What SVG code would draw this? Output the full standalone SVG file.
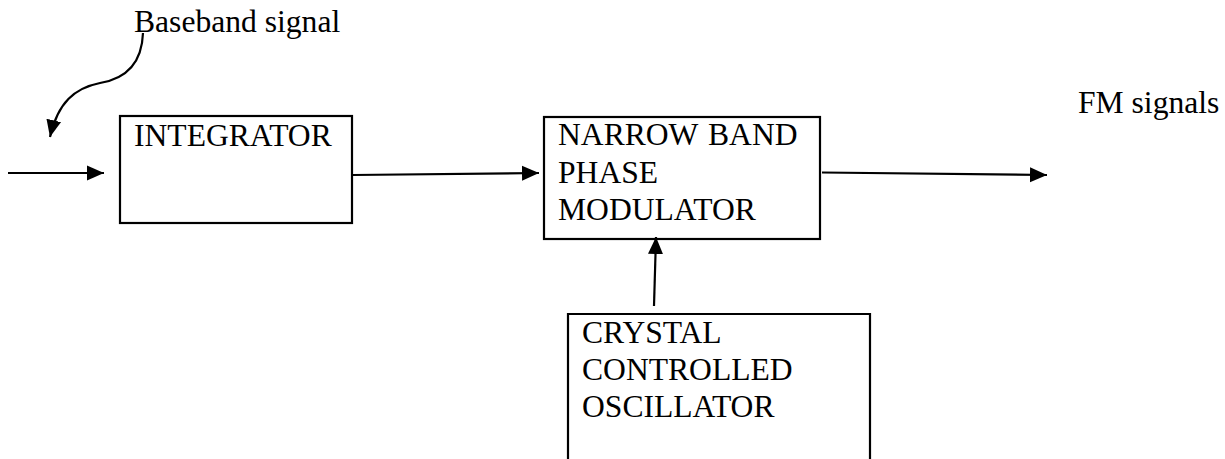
<svg xmlns="http://www.w3.org/2000/svg" width="1225" height="459" viewBox="0 0 1225 459">
<style>
.box{fill:#fff;stroke:#000;stroke-width:2.2}
.lbl{font-family:"Liberation Serif","Times New Roman",serif;font-size:31.6px;fill:#000}
.conn{fill:none;stroke:#000;stroke-width:2.2}
</style>
<defs>
<marker id="ah" markerUnits="userSpaceOnUse" markerWidth="18" markerHeight="16" refX="17" refY="8" orient="auto" viewBox="0 0 18 16">
<path d="M0,0.5 L17,8 L0,15.5 z" fill="#000"/>
</marker>
</defs>
<rect width="1225" height="459" fill="#fff"/>
<g id="integrator">
<rect class="box" x="120" y="116" width="232" height="107"/>
<text class="lbl" x="134" y="146">INTEGRATOR</text>
</g>
<g id="nbpm">
<rect class="box" x="544" y="117" width="276" height="122"/>
<text class="lbl" x="558" y="145">NARROW<tspan x="708">BAND</tspan></text>
<text class="lbl" x="558" y="182.5">PHASE</text>
<text class="lbl" x="558" y="220">MODULATOR</text>
</g>
<g id="oscillator">
<path class="box" d="M568,462 V314 H870 V462"/>
<text class="lbl" x="582" y="343">CRYSTAL</text>
<text class="lbl" x="582" y="380">CONTROLLED</text>
<text class="lbl" x="582" y="416.5">OSCILLATOR</text>
</g>
<g id="labels">
<text class="lbl" x="134" y="32">Baseband signal</text>
<text class="lbl" x="1078" y="113">FM signals</text>
</g>
<g id="connectors">
<path class="conn" d="M8,173 H104" marker-end="url(#ah)"/>
<path class="conn" d="M353,175 L539,173" marker-end="url(#ah)"/>
<path class="conn" d="M822,172.5 L1047,175" marker-end="url(#ah)"/>
<path class="conn" d="M654,306 L656,237" marker-end="url(#ah)"/>
<path class="conn" d="M143,33 C142,60 130,78 100,83 C75,88 58,102 50,137" marker-end="url(#ah)"/>
</g>
</svg>
